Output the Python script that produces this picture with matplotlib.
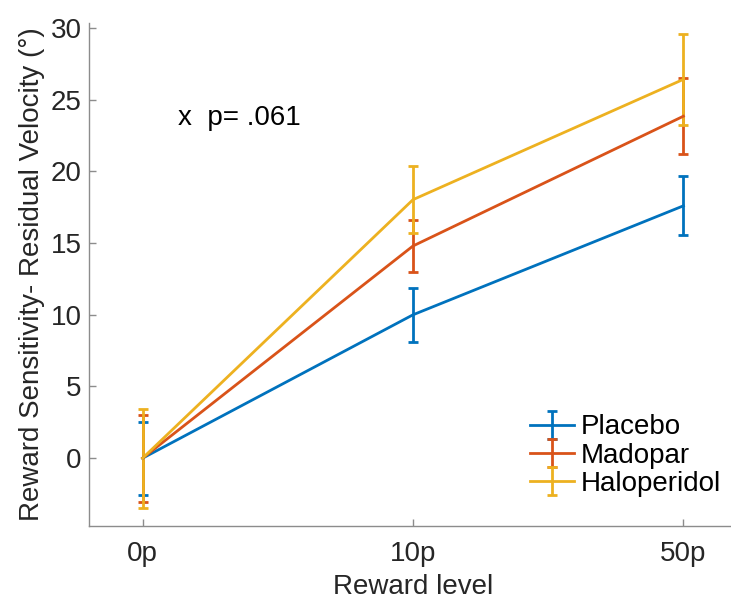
import matplotlib
matplotlib.use("Agg")
import matplotlib.pyplot as plt

plt.rcParams['font.family'] = ['Liberation Sans', 'DejaVu Sans']

x_labels = ['0p', '10p', '50p']
x_pos = [1, 2, 3]
placebo = [0.0, 10.0, 17.6]
placebo_err = [2.55, 1.87, 2.07]
madopar = [0.0, 14.8, 23.85]
madopar_err = [3.04, 1.8, 2.65]
haloperidol = [0.0, 18.03, 26.42]
haloperidol_err = [3.45, 2.35, 3.18]
series_names = ['Placebo', 'Madopar', 'Haloperidol']
colors = ['#0072BD', '#D95319', '#EDB120']

W, H = 731, 606
fig = plt.figure(figsize=(W/100, H/100), dpi=100)
left, right, bottom, top = 88.5, 737.5, 526, 23
ax = fig.add_axes([left/W, (H-bottom)/H, (right-left)/W, (bottom-top)/H])

for vals, errs, name, c in zip([placebo, madopar, haloperidol],
                               [placebo_err, madopar_err, haloperidol_err],
                               series_names, colors):
    ax.errorbar(x_pos, vals, yerr=errs, color=c, lw=2.0, elinewidth=2.0,
                capsize=3.5, capthick=2.0, label=name)

ax.set_xlim(0.8, 3.2)
ax.set_ylim(-4.73, 30.35)
ax.set_xticks(x_pos)
ax.set_xticklabels(x_labels)
ax.set_yticks([0, 5, 10, 15, 20, 25, 30])
for s in ['top', 'right']:
    ax.spines[s].set_visible(False)
for s in ['left', 'bottom']:
    ax.spines[s].set_color('#8c8c8c')
    ax.spines[s].set_linewidth(1.0)
ax.tick_params(direction='in', length=5, width=1, colors='#8c8c8c',
               labelcolor='#262626', labelsize=20)
ax.tick_params(axis='x', pad=11)
ax.tick_params(axis='y', pad=5)
ax.set_xlabel('Reward level', fontsize=20, color='#262626', labelpad=5)
ax.set_ylabel('Reward Sensitivity- Residual Velocity (°)', fontsize=20,
              color='#262626', labelpad=4)

ax.text(1.13, 23.7, 'x  p= .061', fontsize=20, color='black', va='center', ha='left')

leg = ax.legend(loc='lower left', bbox_to_anchor=(0.663, 0.036), frameon=False,
                fontsize=20, handlelength=1.6, handletextpad=0.22,
                labelspacing=0.08, borderaxespad=0)
for t in leg.get_texts():
    t.set_color('black')

fig.savefig('out.png', dpi=100)
